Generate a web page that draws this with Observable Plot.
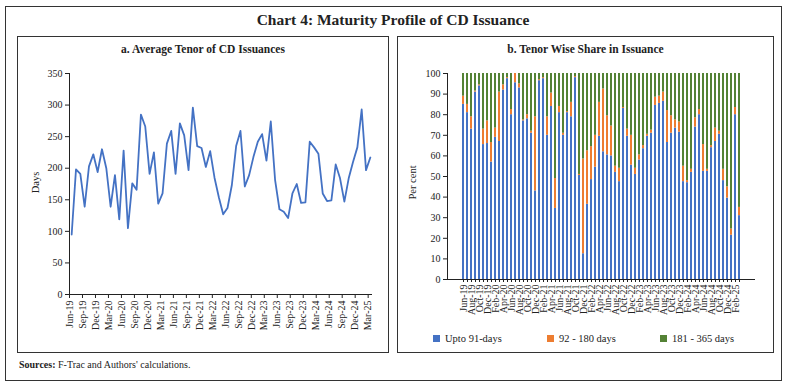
<!DOCTYPE html>
<html><head><meta charset="utf-8">
<script src="https://cdn.jsdelivr.net/npm/d3@7"></script>
<script src="https://cdn.jsdelivr.net/npm/@observablehq/plot@0.6"></script>
<style>
body{margin:0;background:#fff;font-family:"Liberation Serif",serif;color:#222;}
#root{position:relative;width:786px;height:388px;overflow:hidden;}
.box{position:absolute;border:1px solid #333;box-sizing:border-box;}
.t{position:absolute;white-space:nowrap;}
#title{left:0;width:786px;top:11px;text-align:center;font-size:15.5px;font-weight:bold;color:#222;}
.ptitle{top:43px;text-align:center;font-size:11.5px;font-weight:bold;color:#222;}
.ylab{font-size:10.5px;transform:rotate(-90deg);transform-origin:center;color:#222;}
.leg{top:333px;font-size:10.5px;color:#222;}
.sw{display:inline-block;width:7px;height:7px;margin-right:5px;vertical-align:0px;}
#src{left:19px;top:359px;font-size:10px;color:#222;}
</style></head><body>
<div id="root">
  <div class="box" style="left:5px;top:6px;width:777px;height:375px"></div>
  <div class="t" id="title">Chart 4: Maturity Profile of CD Issuance</div>
  <div class="box" style="left:17px;top:36px;width:372px;height:317px"></div>
  <div class="box" style="left:397px;top:36px;width:377px;height:317px"></div>
  <div class="t ptitle" style="left:17px;width:372px">a. Average Tenor of CD Issuances</div>
  <div class="t ptitle" style="left:397px;width:377px">b. Tenor Wise Share in Issuance</div>
  <div id="left" style="position:absolute;left:17px;top:62px"></div>
  <div id="right" style="position:absolute;left:397px;top:62px"></div>
  <div class="t ylab" style="left:20px;top:177px;width:30px;text-align:center">Days</div>
  <div class="t ylab" style="left:392px;top:177px;width:40px;text-align:center">Per cent</div>
  <div id="legend"></div>
  <div class="t" id="src"><b>Sources:</b> F-Trac and Authors' calculations.</div>
</div>
<script>
const months = ["Jun-19","Jul-19","Aug-19","Sep-19","Oct-19","Nov-19","Dec-19",
"Jan-20","Feb-20","Mar-20","Apr-20","May-20","Jun-20","Jul-20","Aug-20","Sep-20","Oct-20","Nov-20","Dec-20",
"Jan-21","Feb-21","Mar-21","Apr-21","May-21","Jun-21","Jul-21","Aug-21","Sep-21","Oct-21","Nov-21","Dec-21",
"Jan-22","Feb-22","Mar-22","Apr-22","May-22","Jun-22","Jul-22","Aug-22","Sep-22","Oct-22","Nov-22","Dec-22",
"Jan-23","Feb-23","Mar-23","Apr-23","May-23","Jun-23","Jul-23","Aug-23","Sep-23","Oct-23","Nov-23","Dec-23",
"Jan-24","Feb-24","Mar-24","Apr-24","May-24","Jun-24","Jul-24","Aug-24","Sep-24","Oct-24","Nov-24","Dec-24",
"Jan-25","Feb-25","Mar-25"];

// Average tenor (days)
const tenor = [95,198,191,139,203,222,194,230,200,139,
189,119,228,105,176,166,285,266,191,225,
144,160,239,259,191,271,252,197,296,235,
232,202,227,185,154,127,137,173,235,259,
171,189,218,242,254,212,274,181,135,131,
121,160,175,145,146,242,233,223,160,148,
149,206,184,147,184,210,233,293,197,217];

// Tenor-wise share (per cent)
const upto91 = [85,81,73,91,94,65.5,66,57,69,67,92,97.5,80,95.5,93,77,78,71,43,96.5,
97.5,70,84,34.5,81,70,81,79,98,50.5,12.5,36.5,48.5,54.5,69.5,62,60.5,60,52,47.5,
83,69.5,55.5,51,58,63.5,69.5,71,84.5,85.5,86.5,66.5,71,73.5,71.5,47.5,47,52,74,80,
52.5,52.5,64,67,70.5,48,39.5,21.5,80,31];
const d92to180 = [4,4,6,0.5,0.5,7.5,11,9.5,4.5,24,2.5,0.5,2.5,4.5,2,0.5,2,1,36,0.5,
0.5,9,6.5,14.5,3,1,0.5,7,0.5,0.5,46,26,16,15.5,16.5,30.5,19,14.5,3,6.5,
0.5,3.5,14.5,3,2.5,1.5,1,1.5,4,3.5,4.5,15.5,8.5,4,5,7.5,1,1.5,4.5,2.5,
13,1,1,6.5,1.5,5.5,5.5,3,3.5,4];
const d181to365 = [11,15,21,8.5,5.5,27,23,33.5,26.5,9,5.5,2,17.5,0,5,22.5,20,28,21,3,
2,21,9.5,51,16,29,18.5,14,1.5,49,41.5,37.5,35.5,30,14,7.5,20.5,25.5,45,46,
16.5,27,30,46,39.5,35,29.5,27.5,11.5,11,9,18,20.5,22.5,23.5,45,52,46.5,21.5,17.5,
34.5,46.5,35,26.5,28,46.5,55,75.5,16.5,65];

const seriesNames = ["Upto 91-days","92 - 180 days","181 - 365 days"];
const seriesColors = ["#4472C4","#ED7D31","#548235"];

const font = {fontFamily:"'Liberation Serif', serif", fontSize:"10px", color:"#222", background:"transparent"};

// Left chart
const leftTickIdx = d3.range(0, months.length, 3);
const left = Plot.plot({
  width:372, height:280, marginLeft:52, marginRight:17, marginTop:11, marginBottom:48,
  style: font,
  x:{type:"linear", domain:[0, months.length]},
  y:{domain:[0,350]},
  marks:[
    Plot.axisY({ticks:d3.range(0,351,50), tickSize:4, tickPadding:3, label:null}),
    Plot.axisX(leftTickIdx, {tickFormat:i=>months[i], tickRotate:-90, tickSize:4, tickPadding:2, label:null}),
    Plot.ruleX([0], {stroke:"#222"}),
    Plot.ruleY([0], {stroke:"#222"}),
    Plot.line(tenor, {x:(d,i)=>i+0.5, y:d=>d, stroke:"#4472C4", strokeWidth:1.8})
  ]
});
document.getElementById("left").appendChild(left);

// Right chart
const shares = months.flatMap((m,i)=>[
  {month:m, series:seriesNames[0], value:upto91[i]},
  {month:m, series:seriesNames[1], value:d92to180[i]},
  {month:m, series:seriesNames[2], value:d181to365[i]}
]);
const right = Plot.plot({
  width:377, height:268, marginLeft:50, marginRight:19, marginTop:11, marginBottom:51,
  style: font,
  x:{type:"band", domain:months, paddingInner:0.42, paddingOuter:0.21},
  y:{domain:[0,100]},
  color:{domain:seriesNames, range:seriesColors},
  marks:[
    Plot.barY(shares, {x:"month", y:"value", fill:"series", order:seriesNames}),
    Plot.axisY({ticks:d3.range(0,101,10), tickSize:4, tickPadding:3, label:null}),
    Plot.axisX(months, {tickFormat:()=>"", tickSize:3, label:null}),
    Plot.axisX(months.filter((d,i)=>i%2===0), {tickRotate:-90, tickSize:0, tickPadding:5, label:null}),
    Plot.ruleY([0], {stroke:"#222"}),
    Plot.frame({anchor:"left", stroke:"#222"})
  ]
});
document.getElementById("right").appendChild(right);

// Legend
const legX = [433, 547, 660];
const leg = document.getElementById("legend");
seriesNames.forEach((s,i)=>{
  const d = document.createElement("div");
  d.className = "t leg";
  d.style.left = legX[i] + "px";
  d.innerHTML = `<span class="sw" style="background:${seriesColors[i]}"></span>${s}`;
  leg.appendChild(d);
});
</script>
</body></html>
